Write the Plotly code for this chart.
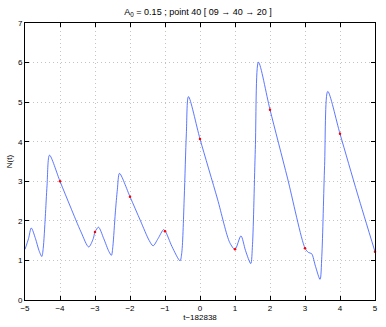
import plotly.graph_objects as go

# curve samples (t relative to 182838, N(t))
t_vals = [-5.00, -4.90, -4.82, -4.70, -4.60, -4.52, -4.48, -4.42, -4.37, -4.30,
          -4.00, -3.70, -3.40, -3.18, -3.05, -3.00, -2.90, -2.75, -2.60, -2.53,
          -2.49, -2.42, -2.36, -2.30, -2.00, -1.70, -1.45, -1.34, -1.20, -1.04,
          -0.99, -0.80, -0.57, -0.52, -0.45, -0.39, -0.33, 0.00, 0.50, 0.85,
          1.00, 1.17, 1.30, 1.45, 1.50, 1.58, 1.67, 2.00, 2.50, 3.00,
          3.10, 3.19, 3.30, 3.43, 3.48, 3.56, 3.65, 4.00, 4.50, 5.00]
n_vals = [1.28, 1.55, 1.82, 1.55, 1.25, 1.10, 1.30, 2.10, 2.90, 3.66,
          3.00, 2.35, 1.72, 1.34, 1.55, 1.72, 1.84, 1.55, 1.22, 1.13,
          1.35, 2.20, 2.80, 3.20, 2.61, 2.00, 1.50, 1.37, 1.55, 1.78,
          1.74, 1.35, 0.99, 1.20, 2.60, 4.20, 5.14, 4.07, 2.55, 1.45,
          1.28, 1.62, 1.25, 0.92, 1.40, 3.80, 6.01, 4.81, 3.08, 1.31,
          1.20, 1.17, 0.85, 0.52, 1.10, 3.40, 5.27, 4.20, 2.68, 1.22]

# marked points at integer times
mark_t = [-4, -3, -2, -1, 0, 1, 2, 3, 4, 5]
mark_n = [3.00, 1.72, 2.61, 1.74, 4.07, 1.28, 4.81, 1.31, 4.20, 1.22]

x_ticks = [-5, -4, -3, -2, -1, 0, 1, 2, 3, 4, 5]
x_ticktext = ["\u22125", "\u22124", "\u22123", "\u22122", "\u22121", "0", "1", "2", "3", "4", "5"]
y_ticks = [0, 1, 2, 3, 4, 5, 6, 7]

fig = go.Figure()
fig.add_trace(go.Scatter(x=t_vals, y=n_vals, mode="lines",
                         line=dict(color="#3355ff", width=0.8, shape="spline", smoothing=0.8),
                         showlegend=False, hoverinfo="skip", cliponaxis=False))
fig.add_trace(go.Scatter(x=mark_t, y=mark_n, mode="markers",
                         marker=dict(color="#ff0000", size=2.5),
                         showlegend=False, cliponaxis=False))

font = "Liberation Sans, Arial, sans-serif"
axis_common = dict(showline=True, linecolor="black", linewidth=1, mirror="ticks",
                   ticks="inside", ticklen=4, tickcolor="black",
                   showgrid=True, gridcolor="#c4c4c4", griddash="1px,3px", gridwidth=1,
                   zeroline=False, tickfont=dict(family=font, size=8, color="black"))

fig.update_layout(
    width=386, height=327,
    margin=dict(l=21, r=8, t=23, b=24),
    paper_bgcolor="white", plot_bgcolor="white",
    title=dict(text="A<sub>0</sub> = 0.15 ; point 40 [ 09 \u2192 40 \u2192 20 ]",
               x=0.513, xanchor="center", xref="container", yref="container",
               y=0.963, yanchor="middle",
               font=dict(family=font, size=9, color="black")),
    xaxis=dict(range=[-5, 5], tickvals=x_ticks, ticktext=x_ticktext,
               ticklabeloverflow="allow",
               title=dict(text="t\u2212182838", font=dict(family=font, size=8, color="black"), standoff=1),
               **axis_common),
    yaxis=dict(range=[0, 7], tickvals=y_ticks,
               title=dict(text="N(t)", font=dict(family=font, size=8, color="black"), standoff=4),
               **axis_common),
)

fig.write_html("out.html", config={"displayModeBar": False, "staticPlot": True},
               post_script="document.body.style.margin='0';document.body.style.overflow='hidden';")
